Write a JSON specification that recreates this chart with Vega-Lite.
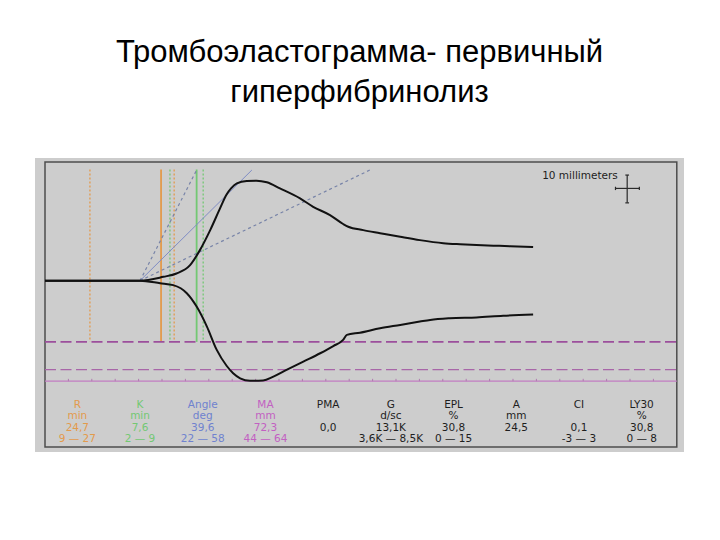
{
  "$schema": "https://vega.github.io/schema/vega-lite/v6.json",
  "width": 649,
  "height": 294,
  "autosize": {"type": "none"},
  "padding": {"left": 35, "top": 158, "right": 36, "bottom": 88},
  "background": "white",
  "title": {
    "text": ["Тромбоэластограмма- первичный", "гиперфибринолиз"],
    "font": "Liberation Sans",
    "fontSize": 31,
    "fontWeight": "normal",
    "color": "#000000",
    "anchor": "middle",
    "lineHeight": 40,
    "offset": 49
  },
  "config": {
    "view": {"fill": "#cdcdcd", "stroke": null},
    "axis": {"disable": true},
    "text": {"font": "DejaVu Sans", "fontSize": 10.5, "align": "center", "baseline": "middle"}
  },
  "datasets": {
    "trace": [
      {"series": "upper", "t": 0, "mm": 0},
      {"series": "upper", "t": 20.3, "mm": 0},
      {"series": "upper", "t": 25.3, "mm": 1.4},
      {"series": "upper", "t": 28.1, "mm": 2.6},
      {"series": "upper", "t": 31.0, "mm": 5.6},
      {"series": "upper", "t": 33.1, "mm": 11.0},
      {"series": "upper", "t": 35.3, "mm": 18.2},
      {"series": "upper", "t": 37.4, "mm": 26.0},
      {"series": "upper", "t": 38.8, "mm": 31.0},
      {"series": "upper", "t": 39.8, "mm": 33.3},
      {"series": "upper", "t": 41.0, "mm": 35.0},
      {"series": "upper", "t": 43.1, "mm": 35.9},
      {"series": "upper", "t": 45.2, "mm": 36.0},
      {"series": "upper", "t": 47.4, "mm": 35.4},
      {"series": "upper", "t": 50.2, "mm": 33.2},
      {"series": "upper", "t": 54.5, "mm": 29.6},
      {"series": "upper", "t": 57.3, "mm": 26.6},
      {"series": "upper", "t": 60.9, "mm": 23.6},
      {"series": "upper", "t": 63.7, "mm": 20.4},
      {"series": "upper", "t": 64.8, "mm": 19.4},
      {"series": "upper", "t": 68.0, "mm": 18.2},
      {"series": "upper", "t": 71.6, "mm": 17.1},
      {"series": "upper", "t": 75.9, "mm": 15.8},
      {"series": "upper", "t": 80.1, "mm": 14.6},
      {"series": "upper", "t": 85.1, "mm": 13.5},
      {"series": "upper", "t": 88.7, "mm": 13.1},
      {"series": "upper", "t": 92.2, "mm": 12.8},
      {"series": "upper", "t": 95.8, "mm": 12.6},
      {"series": "upper", "t": 99.4, "mm": 12.4},
      {"series": "upper", "t": 104.3, "mm": 12.1},
      {"series": "lower", "t": 0, "mm": 0},
      {"series": "lower", "t": 20.3, "mm": 0},
      {"series": "lower", "t": 24.6, "mm": -0.9},
      {"series": "lower", "t": 27.4, "mm": -1.6},
      {"series": "lower", "t": 30.3, "mm": -4.5},
      {"series": "lower", "t": 32.4, "mm": -9.3},
      {"series": "lower", "t": 34.6, "mm": -16.5},
      {"series": "lower", "t": 36.7, "mm": -24.9},
      {"series": "lower", "t": 38.8, "mm": -30.6},
      {"series": "lower", "t": 40.2, "mm": -33.3},
      {"series": "lower", "t": 41.7, "mm": -35.1},
      {"series": "lower", "t": 43.8, "mm": -36.0},
      {"series": "lower", "t": 46.6, "mm": -35.9},
      {"series": "lower", "t": 48.8, "mm": -34.5},
      {"series": "lower", "t": 51.6, "mm": -32.1},
      {"series": "lower", "t": 55.2, "mm": -29.1},
      {"series": "lower", "t": 58.8, "mm": -26.1},
      {"series": "lower", "t": 61.6, "mm": -23.5},
      {"series": "lower", "t": 63.7, "mm": -21.3},
      {"series": "lower", "t": 64.5, "mm": -19.5},
      {"series": "lower", "t": 67.3, "mm": -18.7},
      {"series": "lower", "t": 71.6, "mm": -17.1},
      {"series": "lower", "t": 75.9, "mm": -15.9},
      {"series": "lower", "t": 80.1, "mm": -14.7},
      {"series": "lower", "t": 82.3, "mm": -14.1},
      {"series": "lower", "t": 86.5, "mm": -13.5},
      {"series": "lower", "t": 92.2, "mm": -13.2},
      {"series": "lower", "t": 97.9, "mm": -12.6},
      {"series": "lower", "t": 104.3, "mm": -12.2}
    ],
    "tangents": [
      {"kind": "steep", "t": 20.3, "mm": 0, "t2": 32.4, "mm2": 39.8},
      {"kind": "angle", "t": 20.3, "mm": 0, "t2": 44.2, "mm2": 39.8},
      {"kind": "shallow", "t": 20.3, "mm": 0, "t2": 69.4, "mm2": 39.8}
    ],
    "markers": [
      {"param": "R", "type": "range", "t": 9.6},
      {"param": "R", "type": "range", "t": 27.6},
      {"param": "R", "type": "value", "t": 24.8},
      {"param": "K", "type": "range", "t": 26.7},
      {"param": "K", "type": "range", "t": 33.8},
      {"param": "K", "type": "value", "t": 32.4}
    ],
    "ma": [
      {"type": "low", "mm": -22},
      {"type": "high", "mm": -32},
      {"type": "value", "mm": -36.15}
    ],
    "ticks": [
      {"t": 5}, {"t": 10}, {"t": 15}, {"t": 20}, {"t": 25}, {"t": 30}, {"t": 35},
      {"t": 40}, {"t": 45}, {"t": 50}, {"t": 55}, {"t": 60}, {"t": 65}, {"t": 70},
      {"t": 75}, {"t": 80}, {"t": 85}, {"t": 90}, {"t": 95}, {"t": 100}, {"t": 105},
      {"t": 110}, {"t": 115}, {"t": 120}, {"t": 125}, {"t": 130}
    ],
    "scalebar": [
      {"t": 124.4, "t2": 124.4, "mm": 38.0, "mm2": 28.0},
      {"t": 121.9, "t2": 127.0, "mm": 33.2, "mm2": 33.2},
      {"t": 124.0, "t2": 124.8, "mm": 38.0, "mm2": 38.0},
      {"t": 124.0, "t2": 124.8, "mm": 28.0, "mm2": 28.0},
      {"t": 121.9, "t2": 121.9, "mm": 33.8, "mm2": 32.6},
      {"t": 127.0, "t2": 127.0, "mm": 33.8, "mm2": 32.6}
    ],
    "table": [
      {"param": "R", "group": "R", "unit": "min", "value": "24,7", "range": "9 — 27"},
      {"param": "K", "group": "K", "unit": "min", "value": "7,6", "range": "2 — 9"},
      {"param": "Angle", "group": "Angle", "unit": "deg", "value": "39,6", "range": "22 — 58"},
      {"param": "MA", "group": "MA", "unit": "mm", "value": "72,3", "range": "44 — 64"},
      {"param": "PMA", "group": "other", "unit": "", "value": "0,0", "range": ""},
      {"param": "G", "group": "other", "unit": "d/sc", "value": "13,1K", "range": "3,6K — 8,5K"},
      {"param": "EPL", "group": "other", "unit": "%", "value": "30,8", "range": "0 — 15"},
      {"param": "A", "group": "other", "unit": "mm", "value": "24,5", "range": ""},
      {"param": "CI", "group": "other", "unit": "", "value": "0,1", "range": "-3 — 3"},
      {"param": "LY30", "group": "other", "unit": "%", "value": "30,8", "range": "0 — 8"}
    ]
  },
  "layer": [
    {
      "layer": [
        {
          "data": {"values": [{}]},
          "mark": {"type": "rect", "fill": null, "stroke": "#4d4d4d", "strokeWidth": 1.5},
          "encoding": {
            "x": {"datum": 0, "type": "quantitative", "scale": {"domain": [-2.137, 136.54], "nice": false, "zero": false}},
            "x2": {"datum": 135},
            "y": {"datum": 42.7, "type": "quantitative", "scale": {"domain": [-61.62, 44.14], "nice": false, "zero": false}},
            "y2": {"datum": -59.8}
          }
        },
        {
          "data": {"name": "markers"},
          "transform": [{"filter": "datum.type === 'range'"}],
          "mark": {"type": "rule", "strokeWidth": 1.3, "strokeDash": [2, 2]},
          "encoding": {
            "x": {"field": "t", "type": "quantitative", "scale": {"domain": [-2.137, 136.54], "nice": false, "zero": false}},
            "y": {"datum": 40, "type": "quantitative", "scale": {"domain": [-61.62, 44.14], "nice": false, "zero": false}},
            "y2": {"datum": -22},
            "color": {"field": "param", "type": "nominal", "legend": null,
              "scale": {"domain": ["R", "K", "Angle", "MA", "other"], "range": ["#e39a4c", "#73c873", "#6f82cf", "#c260c2", "#1e1e1e"]}}
          }
        },
        {
          "data": {"name": "markers"},
          "transform": [{"filter": "datum.type === 'value'"}],
          "mark": {"type": "rule", "strokeWidth": 1.8},
          "encoding": {
            "x": {"field": "t", "type": "quantitative", "scale": {"domain": [-2.137, 136.54], "nice": false, "zero": false}},
            "y": {"datum": 40, "type": "quantitative", "scale": {"domain": [-61.62, 44.14], "nice": false, "zero": false}},
            "y2": {"datum": -22},
            "color": {"field": "param", "type": "nominal", "legend": null,
              "scale": {"domain": ["R", "K", "Angle", "MA", "other"], "range": ["#e39a4c", "#73c873", "#6f82cf", "#c260c2", "#1e1e1e"]}}
          }
        },
        {
          "data": {"name": "tangents"},
          "transform": [{"filter": "datum.kind === 'angle'"}],
          "mark": {"type": "rule", "strokeWidth": 1, "color": "#7f8cc4"},
          "encoding": {
            "x": {"field": "t", "type": "quantitative", "scale": {"domain": [-2.137, 136.54], "nice": false, "zero": false}},
            "x2": {"field": "t2"},
            "y": {"field": "mm", "type": "quantitative", "scale": {"domain": [-61.62, 44.14], "nice": false, "zero": false}},
            "y2": {"field": "mm2"}
          }
        },
        {
          "data": {"name": "tangents"},
          "transform": [{"filter": "datum.kind !== 'angle'"}],
          "mark": {"type": "rule", "strokeWidth": 1.2, "color": "#7884a8", "strokeDash": [3, 3]},
          "encoding": {
            "x": {"field": "t", "type": "quantitative", "scale": {"domain": [-2.137, 136.54], "nice": false, "zero": false}},
            "x2": {"field": "t2"},
            "y": {"field": "mm", "type": "quantitative", "scale": {"domain": [-61.62, 44.14], "nice": false, "zero": false}},
            "y2": {"field": "mm2"}
          }
        },
        {
          "data": {"name": "ma"},
          "transform": [{"filter": "datum.type === 'low'"}],
          "mark": {"type": "rule", "strokeWidth": 1.8, "color": "#9c4f9c", "strokeDash": [11, 4.5]},
          "encoding": {
            "x": {"datum": 0, "type": "quantitative", "scale": {"domain": [-2.137, 136.54], "nice": false, "zero": false}},
            "x2": {"datum": 135},
            "y": {"field": "mm", "type": "quantitative", "scale": {"domain": [-61.62, 44.14], "nice": false, "zero": false}}
          }
        },
        {
          "data": {"name": "ma"},
          "transform": [{"filter": "datum.type === 'high'"}],
          "mark": {"type": "rule", "strokeWidth": 1.3, "color": "#a866a8", "strokeDash": [11, 4.5]},
          "encoding": {
            "x": {"datum": 0, "type": "quantitative", "scale": {"domain": [-2.137, 136.54], "nice": false, "zero": false}},
            "x2": {"datum": 135},
            "y": {"field": "mm", "type": "quantitative", "scale": {"domain": [-61.62, 44.14], "nice": false, "zero": false}}
          }
        },
        {
          "data": {"name": "ma"},
          "transform": [{"filter": "datum.type === 'value'"}],
          "mark": {"type": "rule", "strokeWidth": 1.3, "color": "#c27cc2"},
          "encoding": {
            "x": {"datum": 0, "type": "quantitative", "scale": {"domain": [-2.137, 136.54], "nice": false, "zero": false}},
            "x2": {"datum": 135},
            "y": {"field": "mm", "type": "quantitative", "scale": {"domain": [-61.62, 44.14], "nice": false, "zero": false}}
          }
        },
        {
          "data": {"name": "ticks"},
          "mark": {"type": "rule", "strokeWidth": 1, "color": "#b07ab0"},
          "encoding": {
            "x": {"field": "t", "type": "quantitative", "scale": {"domain": [-2.137, 136.54], "nice": false, "zero": false}},
            "y": {"datum": -36.15, "type": "quantitative", "scale": {"domain": [-61.62, 44.14], "nice": false, "zero": false}},
            "y2": {"datum": -35.3}
          }
        },
        {
          "data": {"name": "trace"},
          "mark": {"type": "line", "strokeWidth": 2, "color": "#111111", "interpolate": "monotone"},
          "encoding": {
            "x": {"field": "t", "type": "quantitative", "scale": {"domain": [-2.137, 136.54], "nice": false, "zero": false}},
            "y": {"field": "mm", "type": "quantitative", "scale": {"domain": [-61.62, 44.14], "nice": false, "zero": false}},
            "detail": {"field": "series", "type": "nominal"}
          }
        },
        {
          "data": {"name": "scalebar"},
          "mark": {"type": "rule", "strokeWidth": 1.2, "color": "#2a2a2a"},
          "encoding": {
            "x": {"field": "t", "type": "quantitative", "scale": {"domain": [-2.137, 136.54], "nice": false, "zero": false}},
            "x2": {"field": "t2"},
            "y": {"field": "mm", "type": "quantitative", "scale": {"domain": [-61.62, 44.14], "nice": false, "zero": false}},
            "y2": {"field": "mm2"}
          }
        },
        {
          "data": {"values": [{}]},
          "mark": {"type": "text", "text": "10 millimeters", "align": "right", "color": "#1e1e1e"},
          "encoding": {
            "x": {"datum": 122.4, "type": "quantitative", "scale": {"domain": [-2.137, 136.54], "nice": false, "zero": false}},
            "y": {"datum": 37.6, "type": "quantitative", "scale": {"domain": [-61.62, 44.14], "nice": false, "zero": false}}
          }
        }
      ]
    },
    {
      "data": {"name": "table"},
      "encoding": {
        "x": {"field": "param", "type": "nominal", "sort": null, "scale": {"type": "point", "padding": 0.675}},
        "color": {"field": "group", "type": "nominal", "legend": null,
          "scale": {"domain": ["R", "K", "Angle", "MA", "other"], "range": ["#e39a4c", "#73c873", "#6f82cf", "#c260c2", "#1e1e1e"]}}
      },
      "layer": [
        {
          "mark": {"type": "text"},
          "encoding": {
            "y": {"datum": -44.7, "type": "quantitative", "scale": {"domain": [-61.62, 44.14], "nice": false, "zero": false}},
            "text": {"field": "param"}
          }
        },
        {
          "mark": {"type": "text"},
          "encoding": {
            "y": {"datum": -48.8, "type": "quantitative"},
            "text": {"field": "unit"}
          }
        },
        {
          "mark": {"type": "text"},
          "encoding": {
            "y": {"datum": -52.9, "type": "quantitative"},
            "text": {"field": "value"}
          }
        },
        {
          "mark": {"type": "text"},
          "encoding": {
            "y": {"datum": -57.0, "type": "quantitative"},
            "text": {"field": "range"}
          }
        }
      ]
    }
  ],
  "resolve": {"scale": {"x": "independent"}}
}
